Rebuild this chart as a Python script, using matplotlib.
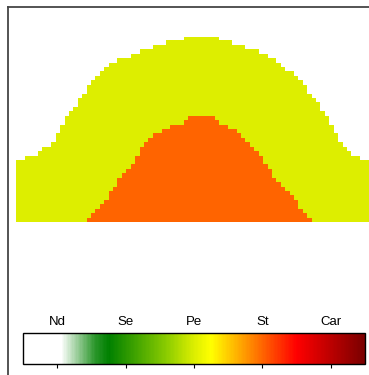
import numpy as np
import matplotlib
matplotlib.use("Agg")
import matplotlib.pyplot as plt
from matplotlib.colors import LinearSegmentedColormap, Normalize
from matplotlib.cm import ScalarMappable
from matplotlib.lines import Line2D

plt.rcParams['font.family'] = ['Liberation Sans', 'DejaVu Sans']

# classes on the legend scale
class_names = ["Nd", "Se", "Pe", "St", "Car"]
class_values = [0.5, 1.5, 2.5, 3.5, 4.5]

# column tops (in grid rows) of each zone
pe_top = [14, 14, 15, 15, 15, 16, 17, 17, 18, 20,
          22, 24, 25, 26, 28, 29, 31, 32, 33, 34,
          35, 36, 36, 37, 37, 37, 38, 38, 39, 39,
          39, 40, 40, 40, 41, 41, 41, 41, 42, 42,
          42, 42, 42, 42, 42, 42, 41, 41, 41, 40,
          40, 40, 39, 39, 39, 38, 38, 37, 37, 36,
          35, 34, 34, 33, 32, 31, 29, 28, 27, 25,
          24, 22, 20, 18, 17, 16, 15, 15, 14, 14]
st_top = [0] * 16 + [1, 2, 3, 4, 5, 7, 8, 10, 11, 12,
                     13, 15, 17, 18, 19, 20, 20, 21, 21, 22,
                     22, 22, 23, 24, 24, 24, 24, 24, 24, 23,
                     22, 22, 21, 21, 20, 19, 18, 17, 16, 15,
                     13, 12, 10, 9, 8, 7, 6, 5, 3, 2, 1] + [0] * 13
n_rows = 42

cmap = LinearSegmentedColormap.from_list("suit", [
    (0.0, "#ffffff"), (0.11, "#ffffff"), (0.21, "#2a962a"), (0.25, "#008000"),
    (0.42, "#8ccc00"), (0.5, "#dcee00"), (0.55, "#ffff00"),
    (0.7, "#ff6600"), (0.8, "#ff0000"), (1.0, "#7a0000")])
norm = Normalize(0, 5)

grid = np.zeros((n_rows, len(pe_top)))
rows = np.arange(n_rows)[:, None]
grid[rows < np.array(pe_top)[None, :]] = class_values[2]
grid[rows < np.array(st_top)[None, :]] = class_values[3]

fig = plt.figure(figsize=(3.69, 3.75), dpi=100, facecolor="white")

ax = fig.add_axes([16 / 369, 1 - 222 / 375, 353 / 369, (222 - 36.8) / 375])
ax.imshow(grid, cmap=cmap, norm=norm, origin="lower", aspect="auto",
          interpolation="nearest")
ax.axis("off")

# frame on left and top
fig.add_artist(Line2D([7.5 / 369, 7.5 / 369], [0, 1 - 6.5 / 375],
                      color="#454545", lw=1.3, transform=fig.transFigure))
fig.add_artist(Line2D([7.5 / 369, 1], [1 - 6.5 / 375, 1 - 6.5 / 375],
                      color="#454545", lw=1.3, transform=fig.transFigure))

cax = fig.add_axes([23 / 369, 1 - 364 / 375, 342 / 369, 31 / 375])
cb = fig.colorbar(ScalarMappable(norm=norm, cmap=cmap), cax=cax,
                  orientation="horizontal")
cb.outline.set_linewidth(1)
cb.set_ticks(class_values)
cb.set_ticklabels(class_names)
cax.tick_params(axis="x", bottom=True, top=False, labelbottom=False,
                labeltop=True, direction="out", length=3, width=0.8,
                labelsize=9.5, pad=0.5)

fig.savefig("out.png", dpi=100, facecolor="white")
